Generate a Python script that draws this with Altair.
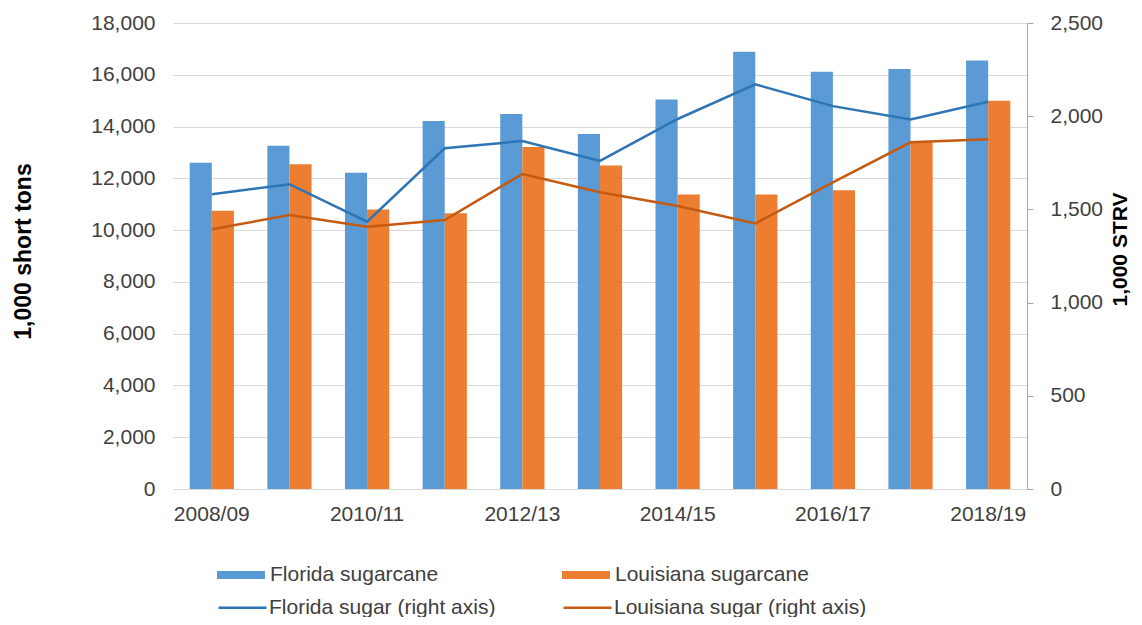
import altair as alt
import pandas as pd

seasons = ["2008/09", "2009/10", "2010/11", "2011/12", "2012/13", "2013/14",
           "2014/15", "2015/16", "2016/17", "2017/18", "2018/19"]
label_seasons = ["2008/09", "2010/11", "2012/13", "2014/15", "2016/17", "2018/19"]

florida_cane = [12600, 13260, 12220, 14215, 14485, 13710, 15045, 16890, 16120, 16225, 16555]
louisiana_cane = [10750, 12540, 10800, 10650, 13210, 12500, 11380, 11380, 11540, 13415, 15000]
florida_sugar = [1581, 1635, 1434, 1828, 1867, 1760, 1985, 2171, 2054, 1983, 2078]
louisiana_sugar = [1393, 1470, 1407, 1443, 1690, 1592, 1518, 1425, 1645, 1860, 1876]

bar_series = ["Florida sugarcane", "Louisiana sugarcane"]
line_series = ["Florida sugar (right axis)", "Louisiana sugar (right axis)"]
bar_colors = ["#5B9BD5", "#ED7D31"]
line_colors = ["#2E75B6", "#C55A11"]

left_ticks = [0, 2000, 4000, 6000, 8000, 10000, 12000, 14000, 16000, 18000]
right_ticks = [0, 500, 1000, 1500, 2000, 2500]

bar_df = pd.DataFrame(
    [{"season": s, "series": bar_series[0], "value": v} for s, v in zip(seasons, florida_cane)]
    + [{"season": s, "series": bar_series[1], "value": v} for s, v in zip(seasons, louisiana_cane)]
)
line_df = pd.DataFrame(
    [{"season": s, "series": line_series[0], "value": v} for s, v in zip(seasons, florida_sugar)]
    + [{"season": s, "series": line_series[1], "value": v} for s, v in zip(seasons, louisiana_sugar)]
)

FONT = "Liberation Sans"
LABEL = "#404040"

x_enc = alt.X(
    "season:N", sort=seasons,
    scale=alt.Scale(paddingInner=0.43, paddingOuter=0.215),
    axis=alt.Axis(values=label_seasons, title=None, labelAngle=0, ticks=False,
                  domainColor="#D9D9D9", domainWidth=1, labelFontSize=21,
                  labelColor=LABEL, labelPadding=14, grid=False, labelFont=FONT),
)

bars = alt.Chart(bar_df).mark_bar().encode(
    x=x_enc,
    xOffset=alt.XOffset("series:N", sort=bar_series,
                        scale=alt.Scale(paddingInner=0, paddingOuter=0)),
    y=alt.Y("value:Q", scale=alt.Scale(domain=[0, 18000], nice=False),
            axis=alt.Axis(values=left_ticks, format=",d", ticks=False, domain=False,
                          grid=True, gridColor="#D9D9D9", gridWidth=1,
                          labelFontSize=21, labelColor=LABEL, labelPadding=18,
                          labelFont=FONT,
                          title="1,000 short tons", titleFontSize=23, titleFontWeight="bold",
                          titleColor="#000000", titleFont=FONT, titleAngle=270,
                          titleX=-150, titleY=228, titleAlign="center",
                          titleBaseline="middle")),
    color=alt.Color("series:N", sort=bar_series,
                    scale=alt.Scale(domain=bar_series, range=bar_colors),
                    legend=alt.Legend(orient="none", legendX=44, legendY=528,
                                      direction="horizontal", title=None,
                                      symbolType="M-1,-0.17H1V0.17H-1Z",
                                      symbolSize=2304, symbolStrokeWidth=0,
                                      labelFontSize=21, labelColor=LABEL, labelFont=FONT,
                                      labelOffset=5, labelLimit=500,
                                      columnPadding=123, padding=0)),
)

lines = alt.Chart(line_df).mark_line(strokeWidth=2.5).encode(
    x=alt.X("season:N", sort=seasons),
    y=alt.Y("value:Q", scale=alt.Scale(domain=[0, 2500], nice=False),
            axis=alt.Axis(orient="right", values=right_ticks, format=",d",
                          ticks=True, tickSize=6, tickColor="#A6A6A6",
                          domain=True, domainColor="#A6A6A6", grid=False,
                          labelFontSize=21, labelColor=LABEL, labelPadding=17,
                          labelFont=FONT,
                          title="1,000 STRV", titleFontSize=21, titleFontWeight="bold",
                          titleColor="#000000", titleFont=FONT, titleAngle=270,
                          titleX=93, titleY=226, titleAlign="center",
                          titleBaseline="middle")),
    color=alt.Color("series:N", sort=line_series,
                    scale=alt.Scale(domain=line_series, range=line_colors),
                    legend=alt.Legend(orient="none", legendX=44, legendY=559,
                                      direction="horizontal", title=None,
                                      symbolType="stroke", symbolSize=2304,
                                      symbolStrokeWidth=2.5,
                                      labelFontSize=21, labelColor=LABEL, labelFont=FONT,
                                      labelOffset=1, labelLimit=500,
                                      columnPadding=62, padding=0)),
)

chart = alt.layer(bars, lines).resolve_scale(
    y="independent", color="independent"
).properties(
    width=854, height=466,
    autosize=alt.AutoSizeParams(type="none"),
    padding={"left": 165, "top": 15, "right": 107, "bottom": 128},
).configure(font=FONT).configure_view(stroke=None)

chart.save("out.html", embed_options={"renderer": "svg", "actions": False})
